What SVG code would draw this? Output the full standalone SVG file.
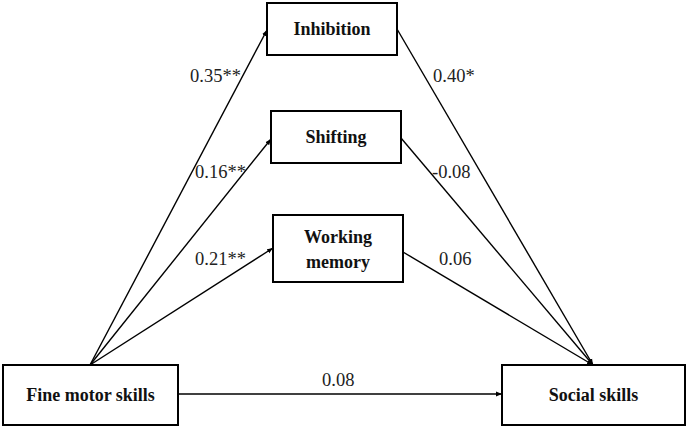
<svg xmlns="http://www.w3.org/2000/svg" width="688" height="428" viewBox="0 0 688 428">
<style>
.box{fill:#fff;stroke:#000;stroke-width:2}
.lbl{font-family:"Liberation Serif","Times New Roman",serif;font-weight:bold;font-size:18px;text-anchor:middle;fill:#111}
.num{font-family:"Liberation Serif","Times New Roman",serif;font-size:18.5px;fill:#222}
.ln{stroke:#000;stroke-width:1.4;fill:none;marker-end:url(#ah)}
</style>
<defs>
<marker id="ah" viewBox="0 0 10 10" refX="10" refY="5" markerWidth="6" markerHeight="6" orient="auto" markerUnits="userSpaceOnUse">
<path d="M0,1 L10,5 L0,9 z" fill="#000"/>
</marker>
</defs>
<rect width="688" height="428" fill="#fff"/>
<g id="connectors">
<line class="ln" x1="90" y1="365" x2="267" y2="30"/>
<line class="ln" x1="90" y1="365" x2="271" y2="139"/>
<line class="ln" x1="90" y1="365" x2="273" y2="248"/>
<line class="ln" x1="178" y1="394" x2="502" y2="394"/>
<line class="ln" x1="397" y1="29" x2="593" y2="365"/>
<line class="ln" x1="401" y1="138" x2="593" y2="365"/>
<line class="ln" x1="403" y1="252" x2="593" y2="365"/>
<text class="num" x="190" y="82">0.35**</text>
<text class="num" x="195" y="178">0.16**</text>
<text class="num" x="195" y="265">0.21**</text>
<text class="num" x="433" y="82">0.40*</text>
<text class="num" x="432" y="178">-0.08</text>
<text class="num" x="439" y="265">0.06</text>
<text class="num" x="322" y="386">0.08</text>
</g>
<g id="inhibition">
<rect class="box" x="267" y="3" width="130" height="52"/>
<text class="lbl" x="332" y="35">Inhibition</text>
</g>
<g id="shifting">
<rect class="box" x="271" y="111" width="130" height="52"/>
<text class="lbl" x="336" y="143">Shifting</text>
</g>
<g id="working-memory">
<rect class="box" x="273" y="215" width="130" height="67"/>
<text class="lbl" x="338" y="243">Working</text>
<text class="lbl" x="338" y="268">memory</text>
</g>
<g id="fine-motor-skills">
<rect class="box" x="3" y="365" width="175" height="60"/>
<text class="lbl" x="90.5" y="401">Fine motor skills</text>
</g>
<g id="social-skills">
<rect class="box" x="502" y="365" width="183" height="60"/>
<text class="lbl" x="593.5" y="401">Social skills</text>
</g>
</svg>
